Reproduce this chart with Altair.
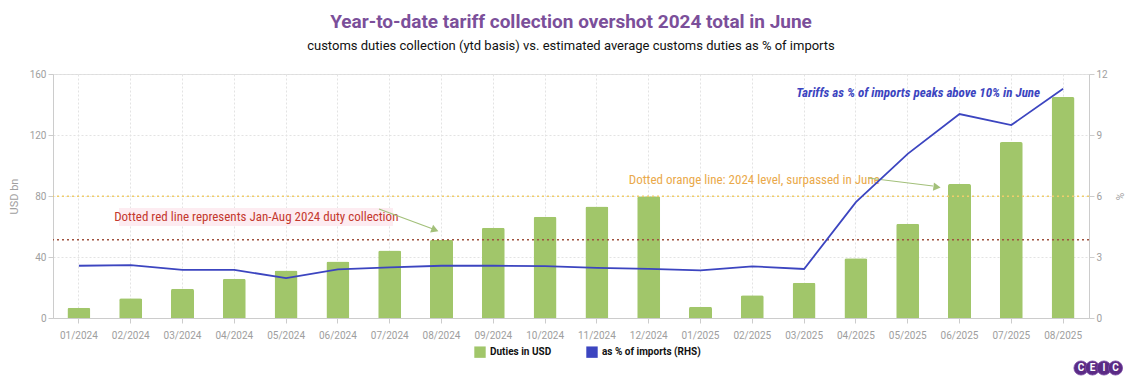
import altair as alt
import pandas as pd

months = ["01/2024", "02/2024", "03/2024", "04/2024", "05/2024", "06/2024", "07/2024",
          "08/2024", "09/2024", "10/2024", "11/2024", "12/2024", "01/2025", "02/2025",
          "03/2025", "04/2025", "05/2025", "06/2025", "07/2025", "08/2025"]
duties_usd_bn = [6.7, 12.9, 19.1, 25.8, 31.1, 37.1, 44.2, 51.3, 59.1, 66.4, 73.1, 79.8,
                 7.3, 14.9, 23.1, 39.1, 61.8, 87.9, 115.4, 144.9]
pct_of_imports = [2.57, 2.60, 2.37, 2.37, 1.96, 2.39, 2.49, 2.57, 2.57, 2.55, 2.47, 2.42,
                  2.34, 2.54, 2.41, 5.70, 8.07, 10.03, 9.49, 11.27]
series_names = ["Duties in USD", "as % of imports (RHS)"]
jan_aug_2024 = duties_usd_bn[7]
total_2024 = duties_usd_bn[11]
left_ticks = [0, 40, 80, 120, 160]
right_ticks = [0, 3, 6, 9, 12]

GREEN = "#a1c66a"
BLUE = "#3c45c0"
FONT = "Roboto"
NARROW = "Roboto Condensed, Liberation Sans Narrow, DejaVu Sans Condensed, sans-serif"
W, H = 1036, 244

df = pd.DataFrame({"month": months, "duties": duties_usd_bn, "pct": pct_of_imports})

x_axis = alt.Axis(title=None, labelAngle=0, labelColor="#9e9e9e", labelFontSize=10,
                  labelFont=FONT, tickColor="#cccccc", tickSize=5, domainColor="#cccccc",
                  grid=True, gridColor="#e3e3e3", gridDash=[2, 2], labelPadding=7)
x_enc = alt.X("month:N", sort=months,
              scale=alt.Scale(type="band", paddingInner=0, paddingOuter=0), axis=x_axis)

left_scale = alt.Scale(domain=[0, 160], nice=False)
left_axis = alt.Axis(title="USD bn", values=left_ticks, labelColor="#a0a0a0", labelFontSize=10,
                     labelFont=FONT, titleColor="#a0a0a0", titleFont=FONT, titleFontSize=11,
                     titleFontWeight="normal", titlePadding=10, tickColor="#cccccc", tickSize=5,
                     domainColor="#cccccc", grid=True, gridColor="#e3e3e3", gridDash=[2, 2])


def ly(field):
    return alt.Y(field, type="quantitative", scale=left_scale, axis=left_axis)


base = alt.Chart(df)

bars = base.transform_calculate(series="'Duties in USD'").mark_bar(
    size=23, cornerRadiusTopLeft=2, cornerRadiusTopRight=2
).encode(
    x=x_enc,
    y=ly("duties"),
    color=alt.Color("series:N", scale=alt.Scale(domain=series_names, range=[GREEN, BLUE]),
                    legend=alt.Legend(title=None, orient="none", legendX=421, legendY=272,
                                      direction="horizontal", symbolType="square",
                                      symbolSize=130, symbolStrokeWidth=0, labelFont=FONT,
                                      labelFontSize=10, labelFontWeight="bold",
                                      labelColor="#111111", columnPadding=34)),
)

refs = pd.DataFrame({"v": [jan_aug_2024, total_2024], "kind": ["red", "orange"]})
red_rule = alt.Chart(refs).transform_filter("datum.kind == 'red'").mark_rule(
    color="#a0523f", strokeDash=[2, 3], strokeWidth=1.3).encode(y=ly("v"))
orange_rule = alt.Chart(refs).transform_filter("datum.kind == 'orange'").mark_rule(
    color="#f0cd6a", strokeDash=[2, 3], strokeWidth=1.4).encode(y=ly("v"))

ann = pd.DataFrame({
    "month": ["04/2024", "02/2025"],
    "v": [66.2, 90.5],
    "text": ["Dotted red line represents Jan-Aug 2024 duty collection",
             "Dotted orange line: 2024 level, surpassed in June"],
    "kind": ["red", "orange"],
})
red_bg = alt.Chart(ann).transform_filter("datum.kind == 'red'").mark_rect(
    color="#fdecf1").encode(x=alt.value(66), x2=alt.value(340), y=alt.value(134), y2=alt.value(152))
red_text = alt.Chart(ann).transform_filter("datum.kind == 'red'").mark_text(
    font=NARROW, fontSize=13, color="#c4382e", dx=22, baseline="middle").encode(
    x=x_enc, y=ly("v"), text="text:N")
orange_text = alt.Chart(ann).transform_filter("datum.kind == 'orange'").mark_text(
    font=NARROW, fontSize=13, color="#eaa94a", dx=2, baseline="middle").encode(
    x=x_enc, y=ly("v"), text="text:N")

blue_ann = pd.DataFrame({"month": ["08/2025"], "v": [147.5],
                         "text": ["Tariffs as % of imports peaks above 10% in June"]})
blue_text = alt.Chart(blue_ann).mark_text(
    font=NARROW, fontSize=13, fontStyle="italic", fontWeight="bold", color=BLUE,
    align="right", dx=-23, baseline="middle").encode(x=x_enc, y=ly("v"), text="text:N")

# arrows (annotation decoration, pixel positions)
ARROW = "#a3c07a"
red_arrow = alt.Chart(alt.Data(values=[{}])).mark_rule(color=ARROW, strokeWidth=1.2).encode(
    x=alt.value(326), x2=alt.value(380), y=alt.value(135), y2=alt.value(155))
red_head = alt.Chart(alt.Data(values=[{}])).mark_point(
    shape="triangle-right", filled=True, color=ARROW, size=70, angle=21, opacity=1).encode(
    x=alt.value(382), y=alt.value(156))
orange_arrow = alt.Chart(alt.Data(values=[{}])).mark_rule(color=ARROW, strokeWidth=1.2).encode(
    x=alt.value(815), x2=alt.value(880), y=alt.value(104), y2=alt.value(112))
orange_head = alt.Chart(alt.Data(values=[{}])).mark_point(
    shape="triangle-right", filled=True, color=ARROW, size=70, angle=7, opacity=1).encode(
    x=alt.value(884), y=alt.value(113))

left_group = alt.layer(bars, red_rule, orange_rule, red_bg, red_text, orange_text, blue_text,
                       red_arrow, red_head, orange_arrow, orange_head)

line = base.mark_line(color=BLUE, strokeWidth=1.8).encode(
    x=alt.X("month:N", sort=months, bandPosition=0.5,
            scale=alt.Scale(type="band", paddingInner=0, paddingOuter=0), axis=x_axis),
    y=alt.Y("pct:Q", scale=alt.Scale(domain=[0, 12], nice=False),
            axis=alt.Axis(orient="right", title="%", values=right_ticks, labelColor="#a0a0a0",
                          labelFontSize=10, labelFont=FONT, titleColor="#a0a0a0",
                          titleFont=FONT, titleFontSize=10, titleFontWeight="normal",
                          titlePadding=6, tickColor="#cccccc", tickSize=5,
                          domainColor="#cccccc", grid=False)),
)

# CEIC logo
logo_layers = []
for i, letter in enumerate(["C", "E", "I", "C"]):
    cx = 1028 + i * 11.5
    logo_layers.append(alt.Chart(alt.Data(values=[{}])).mark_circle(
        color="#5b2b85", size=200, opacity=1, stroke="#7a4aa5", strokeWidth=0.8).encode(
        x=alt.value(cx), y=alt.value(294)))
    logo_layers.append(alt.Chart(alt.Data(values=[{}])).mark_text(
        text=letter, color="white", font=FONT, fontSize=10, fontWeight="bold",
        baseline="middle").encode(x=alt.value(cx), y=alt.value(294)))

chart = alt.layer(left_group, line, *logo_layers).resolve_scale(y="independent").properties(
    width=W, height=H,
    title=alt.TitleParams(
        text="Year-to-date tariff collection overshot 2024 total in June",
        subtitle="customs duties collection (ytd basis) vs. estimated average customs duties as % of imports",
        font=FONT, fontSize=19, fontWeight="bold", color="#7b4f9a",
        subtitleFont=FONT, subtitleFontSize=13, subtitleColor="#111111",
        anchor="middle", offset=16, subtitlePadding=8),
    autosize=alt.AutoSizeParams(type="none"),
    padding={"left": 45, "top": 66, "right": 36, "bottom": 60},
).configure_view(stroke=None).configure(background="white")

chart.save("out.html", embed_options={"renderer": "svg", "actions": False})
